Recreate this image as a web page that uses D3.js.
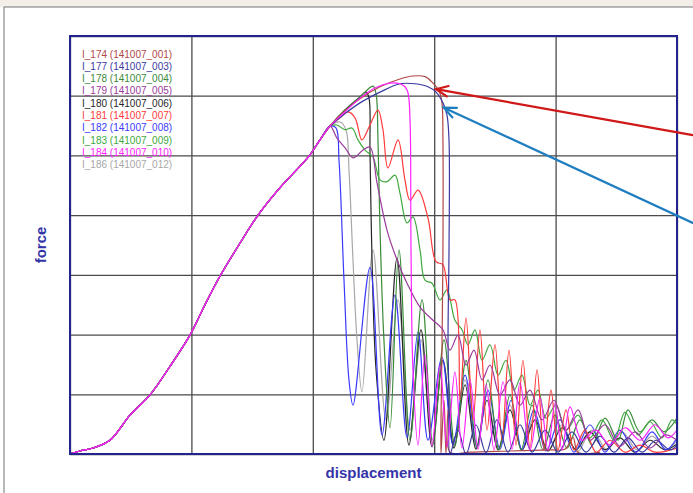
<!DOCTYPE html>
<html><head><meta charset="utf-8">
<script src="https://cdn.jsdelivr.net/npm/d3@7"></script>
<style>html,body{margin:0;padding:0;background:#fff;overflow:hidden}</style>
</head><body>
<svg id="c" width="693" height="493"></svg>
<script>
// ---- data (displacement 0..50, force 0..7) ----
const xTicks = [0, 10, 20, 30, 40, 50];
const yTicks = [0, 1, 2, 3, 4, 5, 6, 7];
const xLabel = "displacement";
const yLabel = "force";

const rise = [[0,0],[0.82,0.05],[1.89,0.10],[3.29,0.23],[4.94,0.65],[6.59,0.99],[8.24,1.47],[9.88,1.99],[11.12,2.50],[12.36,2.98],[14.00,3.53],[15.49,4.00],[17.30,4.46],[18.95,4.82],[19.77,5.01],[20.59,5.26],[21.42,5.49]];

const s174 = [[22.65,5.75],[23.89,5.95],[25.54,6.15],[27.18,6.28],[28.25,6.33],[29.24,6.32],[29.90,6.21],[30.40,6.08],[30.64,5.88],[30.72,5.26],[30.72,3.42],[30.64,1.74],[30.56,0.57],[30.56,0],[30.81,0.90],[30.97,0],[31.14,0.74],[31.30,0.03],[32.95,0.03],[36.24,0.05],[39.54,0.07],[40.77,0.08],[41.43,0.28],[41.85,0.03],[43.66,0.03]];
const s177 = [[22.65,5.70],[23.89,5.88],[25.54,6.06],[27.18,6.20],[28.42,6.20],[29.49,6.15],[30.15,6.06],[30.72,5.88],[31.05,5.68],[31.22,5.26],[31.22,3.42],[31.14,1.91],[31.22,0.90],[31.30,0],[31.96,0.40],[32.62,0],[33.44,0.49],[34.27,0.02],[35.17,0.57],[36.08,0.03],[37.07,0.49],[38.06,0.03],[39.13,0.40],[40.20,0.03],[41.35,0.37],[42.50,0.03],[43.66,0.30],[44.81,0.03],[45.96,0.27],[47.12,0.03],[48.27,0.23],[49.42,0.07],[50.00,0.15]];
const s178 = [[22.65,5.76],[23.89,5.98],[24.96,6.16],[25.21,6.03],[25.37,5.26],[25.54,3.75],[25.86,1.91],[26.36,0.44],[27.10,3.42],[28.01,0.23],[29.00,2.58],[29.90,0.15],[30.81,1.91],[31.71,0.13],[32.62,1.57],[33.53,0.10],[34.43,1.24],[35.34,0.07],[36.24,0.99],[37.15,0.07],[38.06,0.82],[38.96,0.07],[39.95,0.65],[40.94,0.10],[42.01,0.57],[43.00,0.15],[44.07,0.60],[45.14,0.23],[45.96,0.74],[46.95,0.37],[47.94,0.57],[48.93,0.37],[50.00,0.60]];
const s179 = [[21.99,5.29],[22.65,5.13],[23.31,4.96],[24.14,5.09],[24.71,5.14],[25.29,4.54],[26.11,3.75],[26.94,3.25],[27.76,2.86],[28.83,2.46],[29.90,2.24],[30.72,2.08],[31.30,1.74],[31.96,1.99],[32.62,1.49],[33.28,1.74],[33.94,1.24],[34.60,1.49],[35.42,0.99],[36.24,1.24],[37.07,0.82],[37.89,1.07],[38.88,0.57],[39.87,0.90],[40.86,0.40],[41.85,0.74],[42.83,0.23],[44.07,0.49],[45.30,0.13],[46.54,0.37],[47.78,0.10],[49.01,0.32],[50.00,0.23]];
const s180 = [[22.65,5.76],[23.89,5.98],[24.38,6.06],[24.63,5.96],[24.71,5.09],[24.88,3.25],[25.21,1.41],[25.86,0.23],[26.94,3.28],[27.92,0.15],[28.91,2.08],[29.82,0.12],[30.72,1.57],[31.63,0.10],[32.54,1.16],[33.44,0.08],[34.35,0.90],[35.26,0.07],[36.24,0.74],[37.23,0.07],[38.30,0.57],[39.37,0.05],[40.53,0.44],[41.68,0.07],[42.83,0.37],[44.07,0.07],[45.30,0.27],[46.54,0.03],[47.78,0.23],[49.01,0.07],[50.00,0.17]];
const s181 = [[22.24,5.63],[22.90,5.73],[23.48,5.63],[24.05,5.26],[24.71,5.51],[25.37,5.76],[25.78,5.43],[26.19,4.79],[27.02,5.26],[27.59,4.59],[28.01,4.25],[28.67,4.42],[29.49,3.95],[30.15,3.22],[30.72,3.17],[31.30,2.58],[31.71,2.58],[32.13,0.90],[32.62,2.28],[33.20,0.57],[33.77,2.08],[34.35,0.40],[35.01,1.83],[35.58,0.23],[36.16,1.74],[36.74,0.15],[37.31,1.57],[37.89,0.10],[38.47,1.41],[39.04,0.08],[39.62,1.07],[40.20,0.07],[40.86,0.74],[41.52,0.07],[42.42,0.40],[43.33,0.03],[44.48,0.23],[45.72,0.03],[46.95,0.15],[48.19,0.03],[50.00,0.10]];
const s182 = [[21.91,5.46],[22.16,4.92],[22.57,2.91],[22.98,1.24],[23.31,0.82],[24.71,3.12],[25.70,0.32],[26.77,2.66],[27.76,0.28],[28.67,2.04],[29.49,0.23],[30.64,1.62],[31.55,0.15],[32.54,1.32],[33.53,0.12],[34.43,1.07],[35.42,0.08],[36.33,0.90],[37.23,0.07],[38.22,0.74],[39.21,0.05],[40.36,0.57],[41.52,0.03],[42.83,0.49],[44.07,0.03],[45.30,0.40],[46.62,0.03],[47.94,0.37],[49.09,0.07],[50.00,0.27]];
const s183 = [[21.99,5.51],[22.65,5.43],[23.23,5.46],[23.72,5.26],[24.30,5.09],[24.96,4.97],[25.54,4.59],[26.11,4.56],[26.77,4.67],[27.18,4.37],[27.76,3.87],[28.25,3.97],[28.83,3.42],[29.24,2.91],[29.82,2.86],[30.48,2.58],[31.05,2.75],[31.71,2.24],[32.29,2.08],[32.78,1.83],[33.36,2.08],[33.94,1.57],[34.60,1.83],[35.26,1.32],[35.91,1.57],[36.57,1.07],[37.23,1.32],[37.89,0.82],[38.55,1.07],[39.21,0.60],[40.03,0.82],[40.86,0.40],[41.85,0.65],[42.83,0.27],[43.82,0.57],[44.81,0.23],[45.72,0.70],[46.79,0.32],[47.78,0.54],[48.76,0.27],[49.59,0.57],[50.00,0.49]];
const s184 = [[22.65,5.73],[23.89,5.96],[25.12,6.13],[26.36,6.21],[27.18,6.20],[27.59,6.15],[27.84,6.05],[28.01,5.59],[28.09,3.42],[28.25,1.41],[28.67,0.15],[29.24,1.66],[29.82,0.13],[30.48,1.49],[31.05,0.12],[31.71,1.37],[32.29,0.10],[32.95,1.24],[33.61,0.08],[34.27,1.16],[34.93,0.07],[35.67,1.21],[36.41,0.08],[37.07,1.19],[37.89,0.07],[38.71,0.94],[39.37,0.07],[39.95,0.85],[40.53,0.07],[41.19,0.79],[42.17,0.23],[43.33,0.40],[44.48,0.15],[45.72,0.44],[46.95,0.23],[48.19,0.49],[49.26,0.27],[50.00,0.40]];
const s186 = [[22.24,5.56],[22.73,5.43],[22.98,4.76],[23.31,3.25],[23.64,1.91],[24.05,1.04],[24.96,3.42],[26.03,0.57],[27.02,2.58],[28.01,0.40],[28.91,1.91],[29.82,0.23],[30.72,1.57],[31.63,0.15],[32.54,1.24],[33.44,0.10],[34.35,0.99],[35.26,0.07],[36.24,0.82],[37.23,0.07],[38.30,0.65],[39.37,0.05],[40.53,0.49],[41.76,0.03],[42.99,0.40],[44.23,0.07],[45.47,0.37],[46.71,0.07],[47.94,0.30],[49.17,0.07],[50.00,0.23]];

const seriesNames = ["I_174 (141007_001)","I_177 (141007_003)","I_178 (141007_004)","I_179 (141007_005)","I_180 (141007_006)","I_181 (141007_007)","I_182 (141007_008)","I_183 (141007_009)","I_184 (141007_010)","I_186 (141007_012)"];
const seriesData = [s174, s177, s178, s179, s180, s181, s182, s183, s184, s186];
const seriesColors = ["#b04848","#3a3aa0","#3a8a3a","#9a3a9a","#262626","#ff3a3a","#3a3aff","#40a840","#ff22ff","#a8a8a8"];
const drawOrder = [9, 4, 6, 2, 7, 5, 0, 1, 3, 8];

// annotation arrows [tailX, tailY, tipX, tipY] in data units
const arrowRed = [51.3, 5.34, 30.15, 6.11];
const arrowBlue = [51.3, 3.87, 30.8, 5.80];

// ---- drawing ----
const svg = d3.select("#c");
const L = 70, R = 677, T = 36, B = 454;
const x = d3.scaleLinear().domain([0, 50]).range([L, R]);
const y = d3.scaleLinear().domain([0, 7]).range([B, T]);

// page frame
svg.append("rect").attr("x",0).attr("y",0).attr("width",693).attr("height",7).attr("fill","#f4eee8");
svg.append("rect").attr("x",4).attr("y",7).attr("width",700).attr("height",500)
  .attr("fill","#fff").attr("stroke","#8a8a8a").attr("stroke-width",1.2);

// clip
svg.append("defs").append("clipPath").attr("id","pc").append("rect")
  .attr("x",L).attr("y",T).attr("width",R-L).attr("height",B-T);

// grid via axes
const gx = svg.append("g").attr("transform",`translate(0,${B})`)
  .call(d3.axisBottom(x).tickValues(xTicks).tickSize(-(B-T)).tickFormat(""));
const gy = svg.append("g").attr("transform",`translate(${L},0)`)
  .call(d3.axisLeft(y).tickValues(yTicks).tickSize(-(R-L)).tickFormat(""));
[gx, gy].forEach(g => {
  g.select(".domain").remove();
  g.selectAll("line").attr("stroke","#4a4a4a").attr("stroke-width",1.3);
});

// series
const line = d3.line().x(d => x(d[0])).y(d => y(d[1])).curve(d3.curveCatmullRom.alpha(0.5));
const pg = svg.append("g").attr("clip-path","url(#pc)");
drawOrder.forEach(i => {
  pg.append("path").datum(rise.concat(seriesData[i]))
    .attr("fill","none").attr("stroke",seriesColors[i]).attr("stroke-width",1.2)
    .attr("stroke-linejoin","round").attr("d",line);
});

// plot border
svg.append("rect").attr("x",L).attr("y",T).attr("width",R-L).attr("height",B-T)
  .attr("fill","none").attr("stroke","#23238f").attr("stroke-width",2);

// legend
svg.append("g").selectAll("text").data(seriesNames).join("text")
  .attr("x",82).attr("y",(d,i)=>57.5 + i*12.3)
  .attr("font-family","Arial, 'Liberation Sans', sans-serif").attr("font-size",10)
  .attr("fill",(d,i)=>seriesColors[i]).text(d=>d);

// axis titles
svg.append("text").attr("x",(L+R)/2).attr("y",478).attr("text-anchor","middle")
  .attr("font-family","Arial, 'Liberation Sans', sans-serif").attr("font-weight","bold")
  .attr("font-size",15).attr("fill","#3434a8").text(xLabel);
svg.append("text").attr("transform","translate(46,245) rotate(-90)").attr("text-anchor","middle")
  .attr("font-family","Arial, 'Liberation Sans', sans-serif").attr("font-weight","bold")
  .attr("font-size",15).attr("fill","#3434a8").text(yLabel);

// arrows
function arrow(a, color){
  const x0 = x(a[0]), y0 = y(a[1]), x1 = x(a[2]), y1 = y(a[3]);
  const ang = Math.atan2(y0 - y1, x0 - x1), len = 13, spread = 0.42;
  const g = svg.append("g").attr("stroke",color).attr("stroke-width",2.2).attr("fill","none").attr("stroke-linecap","round");
  g.append("line").attr("x1",x0).attr("y1",y0).attr("x2",x1).attr("y2",y1);
  g.append("path").attr("d",`M${x1+len*Math.cos(ang+spread)},${y1+len*Math.sin(ang+spread)}L${x1},${y1}L${x1+len*Math.cos(ang-spread)},${y1+len*Math.sin(ang-spread)}`);
}
arrow(arrowRed, "#d01818");
arrow(arrowBlue, "#1f7ec0");
</script>
</body></html>
